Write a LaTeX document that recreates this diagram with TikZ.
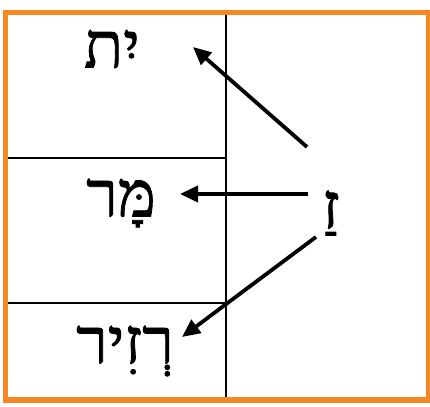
\documentclass[tikz,border=0pt]{standalone}
\usepackage{fontspec}
\newfontfamily\hebfont[Script=Hebrew,FakeBold=1.2]{Liberation Serif}
\TeXXeTstate=1
\usetikzlibrary{arrows.meta}
\definecolor{frameorange}{RGB}{246,135,35}
\begin{document}
\begin{tikzpicture}[x=1pt,y=1pt,
  heb/.style={font=\hebfont\fontsize{64}{66}\selectfont, inner sep=0pt},
  arr/.style={line width=3.8pt, -{Triangle[length=18pt,width=16pt]}},
  rulel/.style={line width=1.8pt}]
\useasboundingbox (0,0) rectangle (430,406);
\draw[frameorange, line width=5pt] (5.5,6) rectangle (428,393.5);
\coordinate (vtop) at (226,391);
\coordinate (vbot) at (226,8.5);
\coordinate (h1l) at (8,248);
\coordinate (h1r) at (226,248);
\coordinate (h2l) at (8,103);
\coordinate (h2r) at (226,103);
\draw[rulel] (vtop) -- (vbot);
\draw[rulel] (h1l) -- (h1r);
\draw[rulel] (h2l) -- (h2r);
\node[heb] (yit) at (112,357) {\beginR יִת\endR};
\node[heb] (mar) at (121,203) {\beginR מָּר\endR};
\node[heb] (rzir) at (125,55) {\beginR רְזִיר\endR};
\node[heb] (za) at (331,193) {\beginR זַ\endR};
\coordinate (t1) at (307,259);
\coordinate (p1) at (193,359);
\coordinate (t2) at (308,212);
\coordinate (p2) at (180,212);
\coordinate (t3) at (316,169);
\coordinate (p3) at (182,69);
\draw[arr] (t1) -- (p1);
\draw[arr] (t2) -- (p2);
\draw[arr] (t3) -- (p3);
\end{tikzpicture}
\end{document}
